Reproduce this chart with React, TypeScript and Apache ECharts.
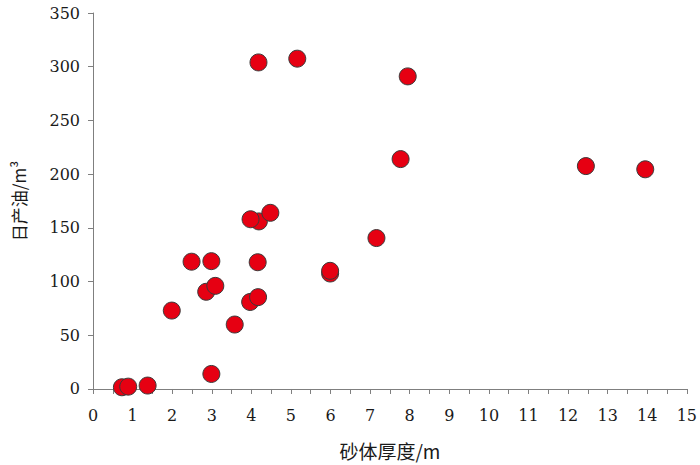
import React, { useEffect, useRef } from "react";
import * as echarts from "echarts";

const thickness = [4.18, 5.16, 7.95, 7.77, 12.45, 13.95, 4.19, 3.98, 4.48, 7.16, 2.49, 2.99, 4.16, 5.99, 5.99, 2.86, 3.09, 3.97, 4.17, 1.99, 3.58, 2.99, 0.73, 0.89, 1.38];
const oilRate = [304, 307.5, 291, 214, 207.5, 204.5, 156, 158, 164, 140.5, 118.5, 119, 118, 107.5, 110, 90.5, 96, 81, 85.5, 73, 60, 14, 1.6, 2.2, 3.2];
const xTicks = { min: 0, max: 15, interval: 1 };
const yTicks = { min: 0, max: 350, interval: 50 };

export default function App() {
  const ref = useRef<HTMLDivElement>(null);
  useEffect(() => {
    const chart = echarts.init(ref.current!, null, { renderer: "svg" });
    const axisColor = "#7f7f7f";
    const serif = "DejaVu Serif";
    chart.setOption({
      animation: false,
      backgroundColor: "#ffffff",
      grid: { left: 93, right: 10, top: 13, bottom: 74, containLabel: false },
      xAxis: {
        type: "value",
        min: xTicks.min,
        max: xTicks.max,
        interval: xTicks.interval,
        name: "砂体厚度/m",
        nameLocation: "middle",
        nameGap: 52,
        nameTextStyle: { fontFamily: "Noto Sans CJK SC", fontSize: 19, color: "#1a1a1a" },
        axisLine: { show: true, onZero: false, lineStyle: { color: axisColor, width: 1 } },
        axisTick: { show: true, inside: false, length: 5, lineStyle: { color: axisColor } },
        minorTick: { show: true, splitNumber: 2, length: 5, lineStyle: { color: axisColor } },
        splitLine: { show: false },
        axisLabel: { margin: 19, fontFamily: serif, fontSize: 16, color: "#1a1a1a" },
      },
      yAxis: {
        type: "value",
        min: yTicks.min,
        max: yTicks.max,
        interval: yTicks.interval,
        name: "日产油/m³",
        nameLocation: "middle",
        nameGap: 66,
        nameTextStyle: { fontFamily: "Noto Sans CJK SC", fontSize: 17, color: "#1a1a1a" },
        axisLine: { show: true, onZero: false, lineStyle: { color: axisColor, width: 1 } },
        axisTick: { show: true, inside: false, length: 5, lineStyle: { color: axisColor } },
        splitLine: { show: false },
        axisLabel: { margin: 13, fontFamily: serif, fontSize: 16, color: "#1a1a1a" },
      },
      series: [
        {
          type: "scatter",
          data: thickness.map((x, i) => [x, oilRate[i]]),
          symbol: "circle",
          symbolSize: 17,
          itemStyle: { color: "#e60012", borderColor: "#3a3a3a", borderWidth: 1, opacity: 1 },
        },
      ],
    });
    return () => chart.dispose();
  }, []);
  return <div ref={ref} style={{ width: 700, height: 465, position: "absolute", left: 0, top: 0 }} />;
}
